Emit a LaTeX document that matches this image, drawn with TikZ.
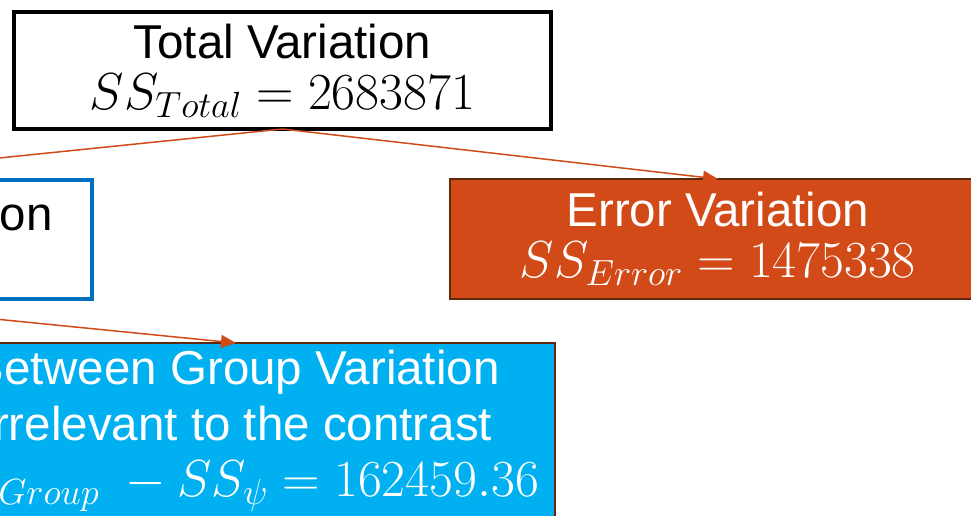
\RequirePackage{fix-cm}
\documentclass[tikz,border=0pt]{standalone}
\usepackage{fontspec}
\setmainfont{Liberation Sans}
\usetikzlibrary{arrows.meta}
\definecolor{arrowor}{HTML}{D24A17}
\definecolor{boxor}{HTML}{D14A17}
\definecolor{boxcy}{HTML}{00B0F0}
\definecolor{boxbl}{HTML}{0070C0}
\definecolor{edgebr}{HTML}{5E2A0E}
\tikzset{
  box/.style={rectangle, inner sep=0pt, outer sep=0pt, align=center,
    font=\fontsize{47.5}{51}\selectfont},
  arr/.style={draw=arrowor, line width=1.5pt, -{Triangle[length=15pt,width=13pt]}},
}
\newcommand{\mathline}[1]{{\fontsize{52}{51}\selectfont $#1$}}
\begin{document}
\begin{tikzpicture}[x=1pt,y=1pt]
\useasboundingbox (0,0) rectangle (971,515);
\clip (0,0) rectangle (971,515);
\node[box, draw=black, line width=4pt, fill=white, minimum width=537pt, minimum height=117pt]
  (total) at (282.5,444.5) {Total Variation\\ \mathline{SS_{Total} = 2683871}};
\node[box, draw=boxbl, line width=4pt, fill=white, minimum width=606pt, minimum height=119pt]
  (between) at (-211,276) {Between Group Variation\\ \mathline{\phantom{S}}};
\node[box, draw=edgebr, line width=2pt, fill=boxor, text=white, minimum width=536pt, minimum height=120pt]
  (error) at (718,276) {Error Variation\\ \mathline{SS_{Error} = 1475338}};
\node[box, draw=edgebr, line width=2pt, fill=boxcy, text=white, minimum width=638pt, minimum height=176pt,
  font=\fontsize{47.5}{56}\selectfont]
  (rest) at (236,84) {Between Group Variation\\ Irrelevant to the contrast\\ \mathline{SS_{Group}\ - SS_{\psi} = 162459.36}};
\draw[arr] (total.south) -- (error.north);
\draw[arr] (total.south) -- (between.north);
\draw[arr] (between.south) -- (rest.north);
\end{tikzpicture}
\end{document}
